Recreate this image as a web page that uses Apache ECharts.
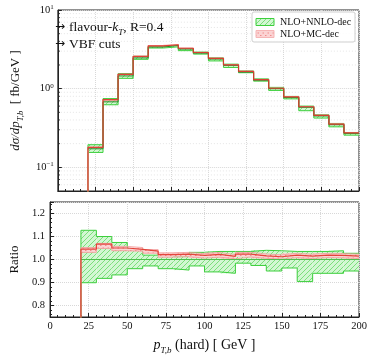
<!DOCTYPE html>
<html>
<head>
<meta charset="utf-8">
<script src="https://cdn.jsdelivr.net/npm/echarts@6/dist/echarts.min.js"></script>
<style>
html, body { margin: 0; padding: 0; background: #fff; }
#chart { width: 374px; height: 356px; }
</style>
</head>
<body>
<div id="chart"></div>
<script>
// bin edges in GeV (18 bins of 10 GeV)
var binEdges = [20, 30, 40, 50, 60, 70, 80, 90, 100, 110, 120, 130, 140, 150, 160, 170, 180, 190, 200];
// NLO+NNLO-dec central value, fb/GeV
var nnloCentral = [0.172, 0.68, 1.45, 2.46, 3.38, 3.54, 3.19, 2.83, 2.38, 1.98, 1.62, 1.28, 1.00, 0.77, 0.58, 0.45, 0.348, 0.27];
// NLO+NNLO-dec band, ratio to central
var nnloRatioUp = [1.127, 1.100, 1.074, 1.047, 1.019, 1.013, 1.013, 1.031, 1.035, 1.035, 1.035, 1.040, 1.038, 1.035, 1.035, 1.035, 1.038, 1.027];
var nnloRatioLo = [0.899, 0.918, 0.933, 0.960, 0.972, 0.960, 0.954, 0.972, 0.946, 0.940, 0.984, 0.974, 0.950, 0.963, 0.904, 0.940, 0.940, 0.950];
// NLO+MC-dec, ratio to NLO+NNLO-dec central
var mcRatio = [1.045, 1.067, 1.050, 1.044, 1.036, 1.021, 1.023, 1.018, 1.022, 1.014, 1.023, 1.016, 1.012, 1.019, 1.015, 1.019, 1.018, 1.015];
var mcRatioUp = [1.052, 1.070, 1.057, 1.052, 1.043, 1.029, 1.031, 1.026, 1.030, 1.022, 1.031, 1.024, 1.020, 1.027, 1.023, 1.027, 1.026, 1.023];
var mcRatioLo = [1.031, 1.048, 1.038, 1.036, 1.027, 1.010, 1.012, 1.006, 1.010, 1.003, 1.011, 1.005, 1.002, 1.008, 1.004, 1.008, 1.007, 1.004];
// log minor grid positions
var logMinor = [0.06, 0.07, 0.08, 0.09, 0.2, 0.3, 0.4, 0.5, 0.6, 0.7, 0.8, 0.9, 2, 3, 4, 5, 6, 7, 8, 9];

var FONT = 'Liberation Serif';
var GREEN = '#3ccf3c', RED = '#e0362c';

function hatch(bg, fg, dots) {
  var c = document.createElement('canvas');
  c.width = 5; c.height = 5;
  var g = c.getContext('2d');
  g.fillStyle = bg; g.fillRect(0, 0, 5, 5);
  g.strokeStyle = fg; g.fillStyle = fg; g.lineWidth = 0.8;
  if (dots) {
    g.fillRect(0, 0, 1.5, 1); g.fillRect(2.5, 2.5, 1.5, 1);
  } else {
    g.beginPath();
    g.moveTo(0, 5); g.lineTo(5, 0);
    g.moveTo(-1, 1); g.lineTo(1, -1);
    g.moveTo(4, 6); g.lineTo(6, 4);
    g.stroke();
  }
  return { image: c, repeat: 'repeat' };
}
var greenFill = hatch('#d2f7d2', '#66d866', false);
var pinkFill = hatch('#fbd3d3', '#f08c8c', true);

function mul(a, b) { return a.map(function (v, i) { return v * b[i]; }); }

function stepPoints(vals, low) {
  var pts = [];
  if (low != null) pts.push([binEdges[0], low]);
  for (var i = 0; i < vals.length; i++) pts.push([binEdges[i], vals[i]]);
  pts.push([binEdges[binEdges.length - 1], vals[vals.length - 1]]);
  return pts;
}
function bandRows(lo, hi) {
  return lo.map(function (v, i) { return [binEdges[i], binEdges[i + 1], v, hi[i]]; });
}
function bandSeries(rows, fill, xi, z) {
  return {
    type: 'custom', xAxisIndex: xi, yAxisIndex: xi, z: z, silent: true,
    data: rows,
    renderItem: function (params, api) {
      var p0 = api.coord([api.value(0), api.value(3)]);
      var p1 = api.coord([api.value(1), api.value(2)]);
      return { type: 'rect', shape: { x: p0[0], y: p0[1], width: p1[0] - p0[0], height: p1[1] - p0[1] }, style: { fill: fill, stroke: null } };
    }
  };
}
function stepLine(pts, color, width, xi, z, opacity) {
  return {
    type: 'line', xAxisIndex: xi, yAxisIndex: xi, z: z, step: 'end', silent: true,
    symbol: 'none', data: pts,
    lineStyle: { color: color, width: width, opacity: opacity == null ? 1 : opacity }
  };
}

var topGreenUp = mul(nnloCentral, nnloRatioUp);
var topGreenLo = mul(nnloCentral, nnloRatioLo);
var topRed = mul(nnloCentral, mcRatio);
var topRedUp = mul(nnloCentral, mcRatioUp);
var topRedLo = mul(nnloCentral, mcRatioLo);
var ones = nnloCentral.map(function () { return 1; });

function subStyle(fs) {
  return { fontSize: fs, fontStyle: 'italic', fontFamily: FONT, verticalAlign: 'bottom', lineHeight: 9, padding: [0, 0, -2, 0] };
}

var xBase = {
  type: 'value', min: 0, max: 200, interval: 25,
  axisLine: { lineStyle: { color: '#222', width: 1 } },
  axisTick: { inside: true, length: 4, lineStyle: { color: '#222' } },
  minorTick: { show: true, splitNumber: 5, length: 2, lineStyle: { color: '#222' } },
  splitLine: { show: true, lineStyle: { type: 'dotted', color: '#d8d8d8' } }
};

var chart = echarts.init(document.getElementById('chart'));
chart.setOption({
  animation: false,
  grid: [
    { left: 48, top: 10, width: 311, height: 181, show: true, borderColor: '#222', borderWidth: 1 },
    { left: 48, top: 202, width: 311, height: 117, show: true, borderColor: '#222', borderWidth: 1 }
  ],
  xAxis: [
    Object.assign({}, xBase, { gridIndex: 0, axisLabel: { show: false } }),
    Object.assign({}, xBase, {
      gridIndex: 1,
      axisLabel: { fontFamily: FONT, fontSize: 10.5, color: '#111', margin: 4 },
      name: '{i|p}{sub|T,b} (hard) [ GeV ]',
      nameLocation: 'middle', nameGap: 20,
      nameTextStyle: { fontFamily: FONT, fontSize: 14, color: '#111', lineHeight: 16, rich: { i: { fontStyle: 'italic', fontFamily: FONT, fontSize: 14 }, sub: subStyle(9) } }
    })
  ],
  yAxis: [
    {
      gridIndex: 0, type: 'log', logBase: 10, min: 0.05, max: 10,
      axisLine: { lineStyle: { color: '#222' } },
      axisTick: { inside: true, length: 4, lineStyle: { color: '#222' } },
      splitLine: { show: true, lineStyle: { type: 'dotted', color: '#d8d8d8' } },
      axisLabel: {
        fontFamily: FONT, fontSize: 10.5, color: '#111', margin: 4, lineHeight: 13,
        formatter: function (v) {
          var l = Math.log10(v), e = Math.round(l);
          if (Math.abs(l - e) > 1e-6) return '';
          return '10{sup|' + (e < 0 ? '\u2212' + (-e) : e) + '}';
        },
        rich: { sup: { fontSize: 7, fontFamily: FONT, verticalAlign: 'top', lineHeight: 7 } }
      },
      name: '{i|d\u03c3/dp}{sub|T,b}  [ fb/GeV ]',
      nameLocation: 'middle', nameGap: 33,
      nameTextStyle: { fontFamily: FONT, fontSize: 13, color: '#111', lineHeight: 15, rich: { i: { fontStyle: 'italic', fontFamily: FONT, fontSize: 13 }, sub: subStyle(8.5) } }
    },
    {
      gridIndex: 1, type: 'value', min: 0.75, max: 1.25,
      axisLine: { lineStyle: { color: '#222' } },
      axisTick: { inside: true, length: 4, lineStyle: { color: '#222' } },
      minorTick: { show: true, splitNumber: 5, length: 2, lineStyle: { color: '#222' } },
      splitLine: { show: true, lineStyle: { type: 'dotted', color: '#d8d8d8' } },
      axisLabel: {
        fontFamily: FONT, fontSize: 10.5, color: '#111', margin: 5,
        formatter: function (v) {
          if (Math.abs(v - 0.75) < 1e-6 || Math.abs(v - 1.25) < 1e-6) return '';
          return v.toFixed(1);
        }
      },
      name: 'Ratio', nameLocation: 'middle', nameGap: 24,
      nameTextStyle: { fontFamily: FONT, fontSize: 13, color: '#111' }
    }
  ],
  series: [
    // log minor grid + ticks (top panel)
    {
      type: 'custom', xAxisIndex: 0, yAxisIndex: 0, z: 0, silent: true,
      data: logMinor.map(function (v) { return [0, v]; }),
      renderItem: function (params, api) {
        var a = api.coord([0, api.value(1)]), b = api.coord([200, api.value(1)]);
        return { type: 'group', children: [
          { type: 'line', shape: { x1: a[0], y1: a[1], x2: b[0], y2: b[1] }, style: { stroke: '#e4e4e4', lineWidth: 1, lineDash: [1, 2] } },
          { type: 'line', shape: { x1: a[0], y1: a[1], x2: a[0] + 2, y2: a[1] }, style: { stroke: '#222', lineWidth: 1 } }
        ] };
      }
    },
    // top panel
    bandSeries(bandRows(topGreenLo, topGreenUp), greenFill, 0, 2),
    stepLine(stepPoints(topGreenUp, 0.001), GREEN, 1, 0, 3),
    stepLine(stepPoints(topGreenLo, 0.001), GREEN, 1, 0, 3),
    bandSeries(bandRows(topRedLo, topRedUp), pinkFill, 0, 4),
    stepLine(stepPoints(topRedUp, 0.001), '#f29a9a', 1, 0, 4, 0.8),
    stepLine(stepPoints(topRedLo, 0.001), '#f29a9a', 1, 0, 4, 0.8),
    stepLine(stepPoints(nnloCentral), '#2a8a2a', 1, 0, 5),
    stepLine(stepPoints(topRed, 0.001), RED, 1.2, 0, 6, 0.9),
    // ratio panel
    bandSeries(bandRows(nnloRatioLo, nnloRatioUp), greenFill, 1, 2),
    stepLine(stepPoints(nnloRatioUp, 0.5), GREEN, 1, 1, 3),
    stepLine(stepPoints(nnloRatioLo, 0.5), GREEN, 1, 1, 3),
    bandSeries(bandRows(mcRatioLo, mcRatioUp), pinkFill, 1, 4),
    stepLine(stepPoints(mcRatioUp, 0.5), '#f29a9a', 1, 1, 4, 0.8),
    stepLine(stepPoints(mcRatioLo, 0.5), '#f29a9a', 1, 1, 4, 0.8),
    stepLine(stepPoints(ones), '#4cbf4c', 1.2, 1, 5),
    stepLine(stepPoints(mcRatio, 0.5), RED, 1.2, 1, 6, 0.9)
  ],
  graphic: [
    { type: 'text', x: 55, y: 27, z: 10,
      style: { text: '\u2192', fontFamily: 'DejaVu Sans', fontSize: 12, fill: '#111', verticalAlign: 'middle' } },
    { type: 'text', x: 69, y: 27, z: 10,
      style: { text: 'flavour-{i|k}{sub|T}, R=0.4', fontFamily: FONT, fontSize: 13.5, fill: '#111', lineHeight: 16, verticalAlign: 'middle',
        rich: { i: { fontStyle: 'italic', fontFamily: FONT, fontSize: 13.5 }, sub: subStyle(9) } } },
    { type: 'text', x: 55, y: 44, z: 10,
      style: { text: '\u2192', fontFamily: 'DejaVu Sans', fontSize: 12, fill: '#111', verticalAlign: 'middle' } },
    { type: 'text', x: 69, y: 44, z: 10,
      style: { text: 'VBF cuts', fontFamily: FONT, fontSize: 13.5, fill: '#111', verticalAlign: 'middle' } },
    { type: 'rect', shape: { x: 252, y: 12, width: 103, height: 30, r: 2 }, z: 10,
      style: { fill: 'rgba(255,255,255,0.9)', stroke: '#cfcfcf', lineWidth: 1 } },
    { type: 'rect', shape: { x: 256, y: 18.5, width: 18, height: 7 }, z: 11,
      style: { fill: greenFill, stroke: GREEN, lineWidth: 1 } },
    { type: 'rect', shape: { x: 256, y: 30.5, width: 18, height: 7 }, z: 11,
      style: { fill: pinkFill, stroke: '#f5b5b5', lineWidth: 1 } },
    { type: 'text', x: 280, y: 22, z: 11,
      style: { text: 'NLO+NNLO-dec', fontFamily: FONT, fontSize: 10, fill: '#111', verticalAlign: 'middle' } },
    { type: 'text', x: 280, y: 34, z: 11,
      style: { text: 'NLO+MC-dec', fontFamily: FONT, fontSize: 10, fill: '#111', verticalAlign: 'middle' } }
  ]
});
</script>
</body>
</html>
